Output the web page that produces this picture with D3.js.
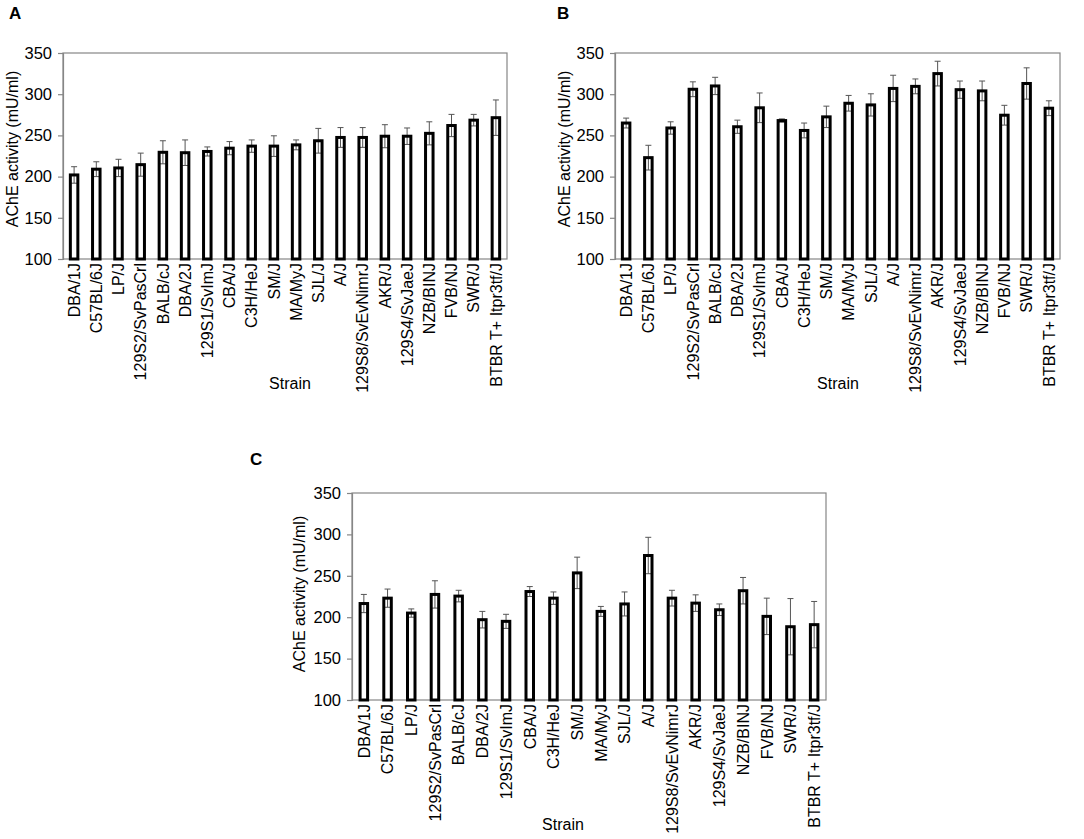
<!DOCTYPE html>
<html>
<head>
<meta charset="utf-8">
<script src="https://cdn.jsdelivr.net/npm/d3@7/dist/d3.min.js"></script>
<style>
	body { margin: 0; background: #fff; }
	svg { display: block; }
	text { font-family: "Liberation Sans", Arial, sans-serif; fill: #000; }
</style>
</head>
<body>
<svg id="chart" width="1084" height="839"></svg>
<script>
"use strict";

var strains = ["DBA/1J", "C57BL/6J", "LP/J", "129S2/SvPasCrl", "BALB/cJ", "DBA/2J",
	"129S1/SvImJ", "CBA/J", "C3H/HeJ", "SM/J", "MA/MyJ", "SJL/J", "A/J",
	"129S8/SvEvNimrJ", "AKR/J", "129S4/SvJaeJ", "NZB/BINJ", "FVB/NJ", "SWR/J",
	"BTBR T+ Itpr3tf/J"];

// panel A: sorted ascending
var strainsA = ["DBA/1J", "C57BL/6J", "LP/J", "129S2/SvPasCrl", "BALB/cJ", "DBA/2J",
	"129S1/SvImJ", "CBA/J", "C3H/HeJ", "SM/J", "MA/MyJ", "SJL/J", "A/J",
	"129S8/SvEvNimrJ", "AKR/J", "129S4/SvJaeJ", "NZB/BINJ", "FVB/NJ", "SWR/J",
	"BTBR T+ Itpr3tf/J"];
var meanA = [202, 209, 210.5, 214.5, 229.5, 229, 230.5, 234.5, 237, 237, 238.5, 243.5,
	247.5, 247.5, 249, 249, 252.5, 262, 268.5, 271.5];
var errA = [10, 9, 10.5, 14, 14, 15.5, 5.5, 8, 7.5, 12.5, 6, 15, 12, 12, 14, 10, 14, 13.5, 7, 21.5];

var meanB = [265, 223, 259, 306, 310, 260.5, 283.5, 268, 256, 272.5, 289, 287, 307,
	309.5, 325, 305.5, 304, 274.5, 313, 283];
var errB = [6, 15, 7.5, 9, 10.5, 8, 18, 2, 9, 13, 9.5, 13.5, 16, 9, 15, 10.5, 12, 12, 19, 9];

var meanC = [216.5, 223, 205, 227.5, 225.5, 197, 195, 231, 223, 253.5, 207, 216, 274.5,
	223, 217, 209, 232, 201, 188.5, 191];
var errC = [11, 11, 5, 16.5, 7, 10, 8.5, 6, 7.5, 19, 6, 14.5, 22, 9.5, 10, 7, 16, 22, 34, 28];

var yTicks = [100, 150, 200, 250, 300, 350];

var svg = d3.select("#chart");

/**
 * Draw one panel
 * @param  {Object} p panel layout and data
 * @return {Void}
 */
var drawPanel = function (p) {
	var g = svg.append("g");

	var x = d3.scaleBand()
		.domain(p.labels)
		.range([p.left, p.right]);

	var y = d3.scaleLinear()
		.domain([100, 350])
		.range([p.bottom, p.top]);

	// box
	g.append("rect")
		.attr("x", p.left)
		.attr("y", p.top)
		.attr("width", p.right - p.left)
		.attr("height", p.bottom - p.top)
		.attr("fill", "none")
		.attr("stroke", "#868686")
		.attr("stroke-width", 1.2);

	// y axis
	var yAxis = g.append("g")
		.attr("transform", "translate(" + p.left + ",0)")
		.call(d3.axisLeft(y).tickValues(yTicks).tickSize(5).tickPadding(6));
	yAxis.selectAll("path, line").attr("stroke", "#868686").attr("stroke-width", 1.2);
	yAxis.selectAll("text")
		.style("font-size", "16.5px")
		.style("font-family", "Liberation Sans, Arial, sans-serif")
		.attr("fill", "#000");

	// x labels
	g.selectAll(".xl")
		.data(p.labels)
		.enter().append("text")
		.attr("class", "xl")
		.attr("transform", function (d) {
			return "translate(" + (x(d) + x.bandwidth() / 2) + "," + (p.bottom + 4) + ") rotate(-90)";
		})
		.attr("text-anchor", "end")
		.attr("dy", "0.36em")
		.style("font-size", "16px")
		.text(function (d) { return d; });

	var bw = 7.5;

	// error bars
	var eb = g.selectAll(".eb")
		.data(p.mean)
		.enter().append("g")
		.attr("class", "eb")
		.attr("stroke", "#555")
		.attr("stroke-width", 1);
	eb.append("line")
		.attr("x1", function (d, i) { return x(p.labels[i]) + x.bandwidth() / 2; })
		.attr("x2", function (d, i) { return x(p.labels[i]) + x.bandwidth() / 2; })
		.attr("y1", function (d, i) { return y(d - p.err[i]); })
		.attr("y2", function (d, i) { return y(d + p.err[i]); });
	eb.append("line")
		.attr("x1", function (d, i) { return x(p.labels[i]) + x.bandwidth() / 2 - 3; })
		.attr("x2", function (d, i) { return x(p.labels[i]) + x.bandwidth() / 2 + 3; })
		.attr("y1", function (d, i) { return y(d + p.err[i]); })
		.attr("y2", function (d, i) { return y(d + p.err[i]); });

	// bars
	g.selectAll(".bar")
		.data(p.mean)
		.enter().append("rect")
		.attr("class", "bar")
		.attr("x", function (d, i) { return x(p.labels[i]) + x.bandwidth() / 2 - bw / 2; })
		.attr("y", function (d) { return y(d); })
		.attr("width", bw)
		.attr("height", function (d) { return p.bottom - y(d); })
		.attr("fill", "none")
		.attr("stroke", "#000")
		.attr("stroke-width", 3);

	// lower whisker drawn over the bar interior
	eb.append("line")
		.attr("x1", function (d, i) { return x(p.labels[i]) + x.bandwidth() / 2 - 3; })
		.attr("x2", function (d, i) { return x(p.labels[i]) + x.bandwidth() / 2 + 3; })
		.attr("y1", function (d, i) { return y(d - p.err[i]); })
		.attr("y2", function (d, i) { return y(d - p.err[i]); });

	// axis titles
	g.append("text")
		.attr("transform", "translate(" + p.yTitleX + "," + p.yTitleY + ") rotate(-90)")
		.attr("text-anchor", "middle")
		.attr("dy", "0.36em")
		.style("font-size", "16px")
		.text("AChE activity (mU/ml)");

	g.append("text")
		.attr("x", p.xTitleX)
		.attr("y", p.bottom + 130)
		.attr("text-anchor", "middle")
		.style("font-size", "16px")
		.text("Strain");

	// panel letter
	g.append("text")
		.attr("x", p.letterX)
		.attr("y", p.letterY)
		.style("font-size", "17px")
		.style("font-weight", "bold")
		.text(p.letter);
};

drawPanel({
	letter: "A", letterX: 9, letterY: 19,
	labels: strainsA, mean: meanA, err: errA,
	left: 63, right: 507, top: 53, bottom: 259,
	yTitleX: 12, yTitleY: 149, xTitleX: 290
});

drawPanel({
	letter: "B", letterX: 557, letterY: 19,
	labels: strains, mean: meanB, err: errB,
	left: 615, right: 1060, top: 53, bottom: 259,
	yTitleX: 564, yTitleY: 149, xTitleX: 838
});

drawPanel({
	letter: "C", letterX: 250, letterY: 465,
	labels: strains, mean: meanC, err: errC,
	left: 352, right: 826, top: 493, bottom: 700,
	yTitleX: 299, yTitleY: 594, xTitleX: 563
});
</script>
</body>
</html>
